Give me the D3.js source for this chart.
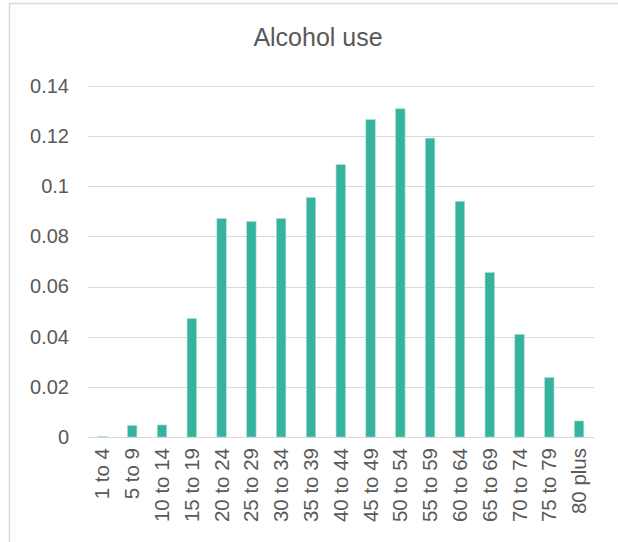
<!DOCTYPE html>
<html>
<head>
<meta charset="utf-8">
<script src="https://cdn.jsdelivr.net/npm/d3@7"></script>
<style>
  html, body { margin: 0; padding: 0; background: #ffffff; }
  svg { display: block; }
  text { font-family: "Liberation Sans", Arial, sans-serif; fill: #595959; }
</style>
</head>
<body>
<svg id="chart" width="618" height="542"></svg>
<script>
// Age groups and share of alcohol use in each
const categories = ["1 to 4", "5 to 9", "10 to 14", "15 to 19", "20 to 24", "25 to 29",
  "30 to 34", "35 to 39", "40 to 44", "45 to 49", "50 to 54", "55 to 59",
  "60 to 64", "65 to 69", "70 to 74", "75 to 79", "80 plus"];
const values = [0.0002, 0.0046, 0.0048, 0.0472, 0.0871, 0.0859,
  0.0871, 0.0955, 0.1086, 0.1266, 0.1309, 0.1192,
  0.0940, 0.0656, 0.0409, 0.0237, 0.0064];
const yTicks = [0, 0.02, 0.04, 0.06, 0.08, 0.1, 0.12, 0.14];
const yTickLabels = ["0", "0.02", "0.04", "0.06", "0.08", "0.1", "0.12", "0.14"];
const title = "Alcohol use";

const svg = d3.select("#chart");

// chart frame
svg.append("rect")
  .attr("x", 9.5).attr("y", 3.5)
  .attr("width", 700).attr("height", 700)
  .attr("fill", "none")
  .attr("stroke", "#d9d9d9")
  .attr("stroke-width", 1.5);

const x = d3.scaleBand()
  .domain(categories)
  .range([87.5, 594])
  .paddingInner(0.685)
  .paddingOuter(0.3425);

const y = d3.scaleLinear()
  .domain([0, 0.14])
  .range([437, 86]);

// horizontal gridlines
svg.append("g")
  .selectAll("line")
  .data(yTicks)
  .join("line")
  .attr("x1", 87.5).attr("x2", 594)
  .attr("y1", d => Math.round(y(d)) + 0.5)
  .attr("y2", d => Math.round(y(d)) + 0.5)
  .attr("stroke", "#d9d9d9")
  .attr("stroke-width", 1.2);

// value axis labels
const yAxis = d3.axisLeft(y)
  .tickValues(yTicks)
  .tickFormat((d, i) => yTickLabels[i])
  .tickSize(0)
  .tickPadding(0);

const yg = svg.append("g")
  .attr("transform", "translate(69,0)")
  .call(yAxis);
yg.select(".domain").remove();
yg.selectAll("text")
  .attr("font-size", 20)
  .attr("fill", "#595959")
  .style("font-family", "'Liberation Sans', Arial, sans-serif");

// bars
svg.append("g")
  .selectAll("rect")
  .data(values)
  .join("rect")
  .attr("x", (d, i) => x(categories[i]))
  .attr("y", d => y(d))
  .attr("width", x.bandwidth())
  .attr("height", d => y(0) - y(d))
  .attr("fill", "#36b39c")
  .attr("stroke", "#a6ddd1")
  .attr("stroke-width", 0.6);

// category axis labels, rotated
const xAxis = d3.axisBottom(x).tickSize(0).tickPadding(0);
const xg = svg.append("g")
  .attr("transform", "translate(0,437)")
  .call(xAxis);
xg.select(".domain").remove();
xg.selectAll("text")
  .attr("font-size", 20.5)
  .attr("fill", "#595959")
  .style("font-family", "'Liberation Sans', Arial, sans-serif")
  .attr("text-anchor", "end")
  .attr("transform", "translate(7,11) rotate(-90)")
  .attr("x", 0).attr("y", 0).attr("dy", 0);

// title
svg.append("text")
  .attr("x", 318)
  .attr("y", 46)
  .attr("text-anchor", "middle")
  .attr("font-size", 25)
  .text(title);
</script>
</body>
</html>
